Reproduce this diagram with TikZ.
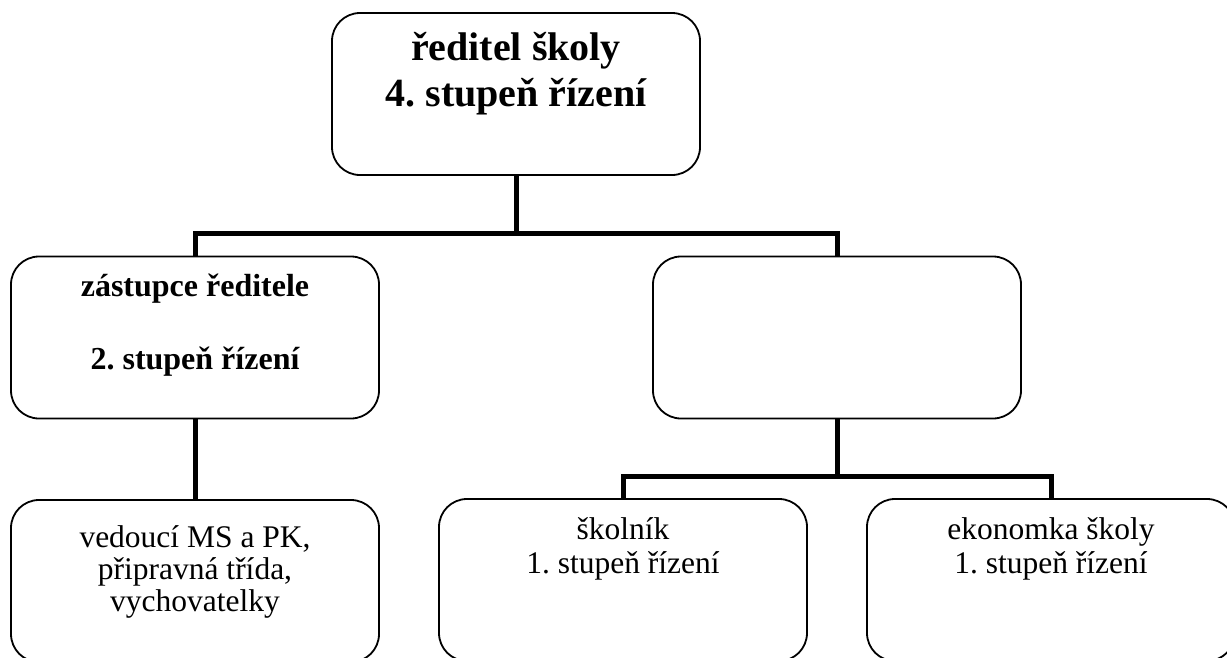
\documentclass[tikz,border=0pt]{standalone}
\usepackage{fontspec}
\setmainfont{Liberation Serif}
\frenchspacing

\begin{document}
\begin{tikzpicture}[x=1pt,y=-1pt,
  box/.style={draw,rounded corners=28pt,line width=1.8pt,minimum width=368pt,minimum height=162pt,inner sep=0pt},
  conn/.style={line width=5pt},
  txt/.style={anchor=north,align=center,inner sep=0pt}]
  \path[use as bounding box,clip] (0,0) rectangle (1227,657);
  % boxes
  \node[box] (R) at (516,94) {};
  \node[box] (Z) at (195,337.5) {};
  \node[box] (X) at (837,337.5) {};
  \node[box] (V) at (195,581) {};
  \node[box] (S) at (623,580) {};
  \node[box] (E) at (1051,580) {};
  % texts
  \node[txt,font=\fontsize{40}{46}\selectfont\bfseries] (Rt) at (516,32) {ředitel školy\\4. stupeň řízení};
  \node[txt,font=\fontsize{32}{36.5}\selectfont\bfseries] (Zt) at (195,274) {zástupce ředitele\\[36.5pt]2. stupeň řízení};
  \node[txt,font=\fontsize{31.5}{32}\selectfont] (Vt) at (195,525) {vedoucí MS a PK,\\připravná třída,\\vychovatelky};
  \node[txt,font=\fontsize{31.5}{34}\selectfont] (St) at (623,517) {školník\\1. stupeň řízení};
  \node[txt,font=\fontsize{31.5}{34}\selectfont] (Et) at (1051,517) {ekonomka školy\\1. stupeň řízení};
  % connectors
  \coordinate (bar1) at (0,233);
  \coordinate (bar2) at (0,476);
  \draw[conn] (R.south) -- (R.south |- bar1);
  \draw[conn] (Z.north) -- (Z.north |- bar1) -- (X.north |- bar1) -- (X.north);
  \draw[conn] (Z.south) -- (V.north);
  \draw[conn] (X.south) -- (X.south |- bar2);
  \draw[conn] (S.north) -- (S.north |- bar2) -- (E.north |- bar2) -- (E.north);
\end{tikzpicture}
\end{document}
